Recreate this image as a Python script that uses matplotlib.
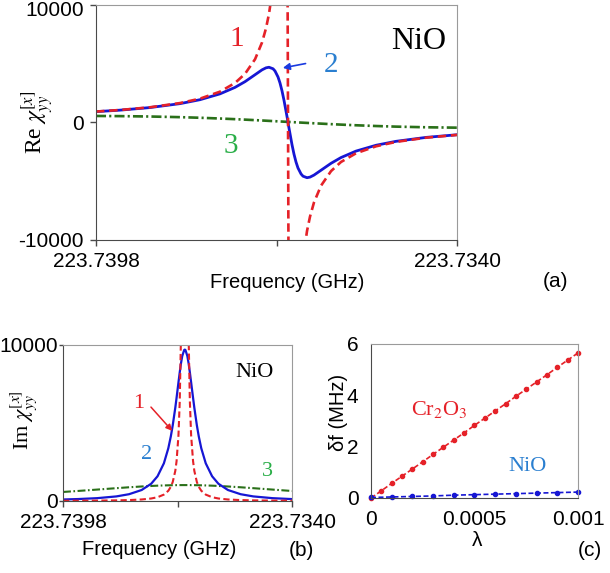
import matplotlib
matplotlib.use('Agg')
import matplotlib.pyplot as plt
import matplotlib.transforms as mtransforms

plt.rcParams['font.family'] = ['Liberation Sans', 'DejaVu Sans']
plt.rcParams['mathtext.fontset'] = 'stix'
plt.rcParams['axes.unicode_minus'] = False

SERIF = ['Liberation Serif', 'DejaVu Serif']

# frequency grid (GHz) (a) and (b)
freq = [223.739800, 223.739414, 223.738932, 223.738450, 223.738129, 223.737808,
        223.737567, 223.737406, 223.737245, 223.737133, 223.737069, 223.737021,
        223.736956, 223.736924, 223.736876, 223.736844, 223.736812, 223.736780,
        223.736731, 223.736715, 223.736699, 223.736651, 223.736619, 223.736587,
        223.736555, 223.736506, 223.736474, 223.736410, 223.736362, 223.736298,
        223.736185, 223.736024, 223.735864, 223.735623, 223.735301, 223.734980,
        223.734498, 223.734000]

# Re chi_yy  (curve 1 = red dashed, 2 = blue solid, 3 = green dash-dot)
re_red = [930, 1063, 1294, 1653, 2028, 2623, 3362, 4139, 5381, 6806, 8015, 9240,
          11585, 13249, 16809, 20339, 25363, 32108, 24634, 0, -24634, -32108,
          -25363, -20339, -16809, -13249, -11585, -9240, -8015, -6806, -5381,
          -4139, -3362, -2623, -2028, -1653, -1294, -1057]
re_blue = [921, 1050, 1270, 1604, 1939, 2436, 2986, 3475, 4065, 4478, 4650, 4700,
           4572, 4381, 3874, 3362, 2699, 1895, 493, 0, -493, -1895, -2699, -3362,
           -3874, -4381, -4572, -4700, -4650, -4478, -4065, -3475, -2986, -2436,
           -1939, -1604, -1270, -1044]
re_green = [554, 541, 508, 453, 401, 337, 282, 242, 199, 169, 151, 137, 119, 110,
            96, 87, 78, 68, 55, 50, 45, 32, 22, 13, 4, -10, -19, -37, -51, -69,
            -99, -142, -182, -237, -301, -353, -408, -442]

# Im chi_yy
im_red = [12, 16, 23, 38, 58, 96, 159, 241, 408, 654, 911, 1216, 1931, 2548, 4202,
          6356, 10568, 20067, 61586, 71440, 61586, 20067, 10568, 6356, 4202, 2548,
          1931, 1216, 911, 654, 408, 241, 159, 96, 58, 38, 23, 16]
im_blue = [95, 124, 181, 292, 433, 703, 1104, 1584, 2415, 3377, 4145, 4851, 5977,
           6608, 7597, 8240, 8822, 9290, 9675, 9700, 9675, 9290, 8822, 8240, 7597,
           6608, 5977, 4851, 4145, 3377, 2415, 1584, 1104, 703, 433, 292, 181, 121]
im_green = [578, 643, 731, 820, 878, 929, 962, 981, 996, 1004, 1008, 1011, 1013,
            1015, 1016, 1017, 1017, 1018, 1018, 1018, 1018, 1018, 1017, 1017, 1016,
            1015, 1013, 1011, 1008, 1004, 996, 981, 962, 929, 878, 820, 731, 640]

# panel (c): frequency shift vs lambda
lam_cr = [0, 0.00005, 0.0001, 0.00015, 0.0002, 0.00025, 0.0003, 0.00035, 0.0004,
          0.00045, 0.0005, 0.00055, 0.0006, 0.00065, 0.0007, 0.00075, 0.0008,
          0.00085, 0.0009, 0.00095, 0.001]
df_cr = [0, 0.28, 0.57, 0.85, 1.13, 1.41, 1.70, 1.98, 2.26, 2.54, 2.83, 3.11, 3.39,
         3.67, 3.96, 4.24, 4.52, 4.80, 5.09, 5.37, 5.65]
lam_nio = [0, 0.0001, 0.0002, 0.0003, 0.0004, 0.0005, 0.0006, 0.0007, 0.0008,
           0.0009, 0.001]
df_nio = [0.02, 0.04, 0.06, 0.08, 0.11, 0.13, 0.15, 0.17, 0.19, 0.21, 0.23]

freq_ticks = [223.7398, 223.7369, 223.7340]
freq_ticklabels = ['223.7398', '', '223.7340']

RED = '#e52128'
BLUE = '#1616d4'
GREEN = '#2a7019'
TXT_BLUE = '#2a7fd0'
TXT_GREEN = '#2aae48'


def style_axes(ax):
    for side in ['top', 'right']:
        ax.spines[side].set_color('#9a9a9a')
    for side in ['left', 'bottom']:
        ax.spines[side].set_color('#4a4a4a')
    ax.tick_params(labelsize=15, length=4, width=1, color='#4a4a4a', pad=5)


fig = plt.figure(figsize=(6.10, 5.73), dpi=100)

# ---- (a) real part
ax_a = fig.add_axes([0.1574, 0.5812, 0.5918, 0.4101])
ax_a.plot(freq, re_green, color=GREEN, lw=1.9, dashes=(3.8, 1.2, 0.8, 1.2))
ax_a.plot(freq, re_blue, color=BLUE, lw=2.0)
ax_a.plot(freq, re_red, color=RED, lw=1.9, dashes=(3.2, 1.8))
ax_a.set_xlim(223.7398, 223.7340)
ax_a.set_ylim(-10000, 10000)
ax_a.set_xticks(freq_ticks)
ax_a.set_xticklabels(freq_ticklabels)
ax_a.set_yticks([-10000, 0, 10000])
style_axes(ax_a)
# top tick label sits a little lower in the original so it is not clipped
top_lbl = ax_a.get_yticklabels()[-1]
top_lbl.set_transform(top_lbl.get_transform() +
                      mtransforms.ScaledTranslation(0, -4 / 100, fig.dpi_scale_trans))
ax_a.set_xlabel('Frequency (GHz)', fontsize=14.5, va='center')
ax_a.xaxis.set_label_coords(0.529, -0.183)
ax_a.set_ylabel(r'Re $\chi_{yy}^{[x]}$', fontsize=17, family=SERIF,
                va='center', ha='center')
ax_a.yaxis.set_label_coords(-0.163, 0.5)
ax_a.text(0.895, 0.845, 'NiO', transform=ax_a.transAxes, fontsize=23,
          family=SERIF, ha='center', va='center')
ax_a.text(0.391, 0.855, '1', transform=ax_a.transAxes, fontsize=21,
          family=SERIF, color=RED, ha='center', va='center')
ax_a.text(0.651, 0.745, '2', transform=ax_a.transAxes, fontsize=21,
          family=SERIF, color=TXT_BLUE, ha='center', va='center')
ax_a.text(0.374, 0.400, '3', transform=ax_a.transAxes, fontsize=21,
          family=SERIF, color=TXT_GREEN, ha='center', va='center')
ax_a.annotate('', xy=(0.510, 0.730), xytext=(0.588, 0.753),
              xycoords='axes fraction', textcoords='axes fraction',
              arrowprops=dict(arrowstyle='-|>', color='#1a3ae0', lw=1.2,
                              mutation_scale=10))
fig.text(0.911, 0.508, '(a)', fontsize=15, ha='center', va='center')

# ---- (b) imaginary part
ax_b = fig.add_axes([0.1033, 0.1257, 0.3754, 0.2723])
ax_b.plot(freq, im_green, color=GREEN, lw=1.5, dashes=(3.8, 1.2, 0.8, 1.2))
ax_b.plot(freq, im_blue, color=BLUE, lw=1.6)
ax_b.plot(freq, im_red, color=RED, lw=1.5, dashes=(3.0, 1.6))
ax_b.set_xlim(223.7398, 223.7340)
ax_b.set_ylim(0, 10000)
ax_b.set_xticks(freq_ticks)
ax_b.set_xticklabels(freq_ticklabels)
ax_b.set_yticks([0, 10000])
style_axes(ax_b)
ax_b.tick_params(axis='y', length=3, pad=0.5)
ax_b.set_xlabel('Frequency (GHz)', fontsize=14.5, va='center')
ax_b.xaxis.set_label_coords(0.419, -0.314)
ax_b.set_ylabel(r'Im $\chi_{yy}^{[x]}$', fontsize=16, family=SERIF,
                va='center', ha='center')
ax_b.yaxis.set_label_coords(-0.172, 0.52)
ax_b.text(0.838, 0.822, 'NiO', transform=ax_b.transAxes, fontsize=16,
          family=SERIF, ha='center', va='center')
ax_b.text(0.332, 0.622, '1', transform=ax_b.transAxes, fontsize=16,
          family=SERIF, color=RED, ha='center', va='center')
ax_b.text(0.364, 0.295, '2', transform=ax_b.transAxes, fontsize=16,
          family=SERIF, color=TXT_BLUE, ha='center', va='center')
ax_b.text(0.894, 0.188, '3', transform=ax_b.transAxes, fontsize=16,
          family=SERIF, color=TXT_GREEN, ha='center', va='center')
ax_b.annotate('', xy=(0.485, 0.436), xytext=(0.376, 0.615),
              xycoords='axes fraction', textcoords='axes fraction',
              arrowprops=dict(arrowstyle='-|>', color=RED, lw=1.1,
                              mutation_scale=9))
fig.text(0.4946, 0.040, '(b)', fontsize=15, ha='center', va='center')

# ---- (c) frequency shift
ax_c = fig.add_axes([0.6082, 0.1309, 0.3393, 0.2688])
ax_c.plot(lam_cr, df_cr, color=RED, lw=1.2, dashes=(3, 1.5), marker='o',
          markersize=3, clip_on=False)
ax_c.plot(lam_nio, df_nio, color=BLUE, lw=1.2, dashes=(3, 1.5), marker='o',
          markersize=3, clip_on=False)
ax_c.set_xlim(0, 0.001)
ax_c.set_ylim(0, 6)
ax_c.set_xticks([0, 0.0005, 0.001])
ax_c.set_xticklabels(['0', '0.0005', '0.001'])
ax_c.set_yticks([0, 2, 4, 6])
style_axes(ax_c)
ax_c.tick_params(length=0, pad=9)
ax_c.set_xlabel('λ', fontsize=15, va='center')
ax_c.xaxis.set_label_coords(0.511, -0.273)
ax_c.set_ylabel('δf (MHz)', fontsize=14.5, va='center', ha='center')
ax_c.yaxis.set_label_coords(-0.159, 0.558)
ax_c.text(0.330, 0.576, r'Cr$_2$O$_3$', transform=ax_c.transAxes, fontsize=16,
          family=SERIF, color=RED, ha='center', va='center')
ax_c.text(0.755, 0.203, 'NiO', transform=ax_c.transAxes, fontsize=16,
          family=SERIF, color=TXT_BLUE, ha='center', va='center')
fig.text(0.967, 0.040, '(c)', fontsize=15, ha='center', va='center')

fig.savefig('out.png', dpi=100)
